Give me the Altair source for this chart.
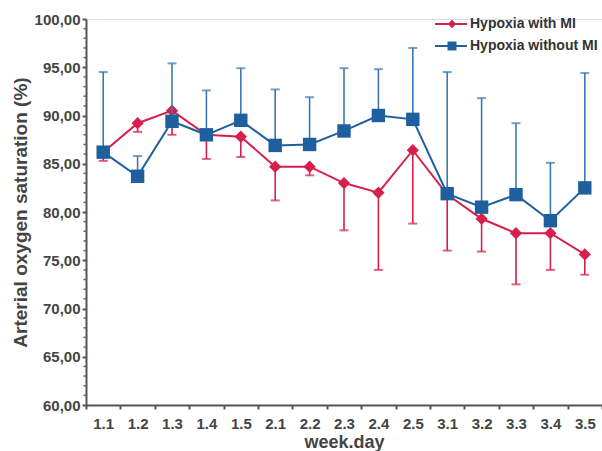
import altair as alt
import pandas as pd

weeks = ["1.1", "1.2", "1.3", "1.4", "1.5", "2.1", "2.2", "2.3", "2.4", "2.5",
         "3.1", "3.2", "3.3", "3.4", "3.5"]
mi_mean = [86.2, 89.2, 90.5, 88.0, 87.8, 84.7, 84.7, 83.0, 82.0, 86.4,
           81.8, 79.3, 77.8, 77.8, 75.6]
mi_low = [85.3, 88.3, 88.0, 85.5, 85.7, 81.2, 83.8, 78.1, 74.0, 78.8,
          76.0, 75.9, 72.5, 74.0, 73.5]
nomi_mean = [86.2, 83.7, 89.4, 88.0, 89.5, 86.9, 87.0, 88.4, 90.0, 89.6,
             81.9, 80.5, 81.8, 79.1, 82.5]
nomi_high = [94.5, 85.8, 95.4, 92.6, 94.9, 92.7, 91.9, 94.9, 94.8, 97.0,
             94.5, 91.8, 89.2, 85.1, 94.4]
y_ticks = [60, 65, 70, 75, 80, 85, 90, 95, 100]
y_minor = [v for v in range(61, 100) if v % 5 != 0]
series_names = ["Hypoxia with MI", "Hypoxia without MI"]

RED = "#d71f4c"
BLUE = "#1f5f9e"
BLUE_ERR = "#3b78b2"
FONT = "Liberation Sans"
W, H = 516, 386

df_mi = pd.DataFrame({"week": weeks, "mean": mi_mean, "err": mi_low})
df_no = pd.DataFrame({"week": weeks, "mean": nomi_mean, "err": nomi_high})

xscale = alt.Scale(type="band", paddingInner=0, paddingOuter=0, domain=weeks)
yscale = alt.Scale(domain=[60, 100], nice=False, zero=False)

x_axis = alt.Axis(title="week.day", labelAngle=0, tickBand="extent",
                  tickSize=4, tickWidth=2, tickColor="#555",
                  labelPadding=7, labelFont=FONT, labelFontSize=15,
                  labelFontWeight="bold", labelColor="#444",
                  titleFont=FONT, titleFontSize=18, titleFontWeight="bold",
                  titleColor="#444", titlePadding=2,
                  domainColor="#555", domainWidth=2)
x_enc = alt.X("week:N", scale=xscale, sort=weeks, axis=x_axis)
y_enc = alt.Y("mean:Q", scale=yscale,
              axis=alt.Axis(title="Arterial oxygen saturation (%)", values=y_ticks,
                            labelExpr="replace(format(datum.value, '.2f'), '.', ',')",
                            labelFont=FONT, labelFontSize=15, labelFontWeight="bold",
                            labelColor="#444", tickColor="#555", tickSize=4,
                            tickWidth=2, labelPadding=2,
                            titleFont=FONT, titleFontSize=19, titleFontWeight="bold",
                            titleColor="#444", titlePadding=4,
                            domainColor="#555", domainWidth=2, grid=False))

# minor ticks on the y axis
minor = alt.Chart(pd.DataFrame({"v": y_minor})).mark_rule(
    color="#666", strokeWidth=1.5).encode(
    y=alt.Y("v:Q", scale=yscale), x=alt.value(-2.5), x2=alt.value(0))


def series(df, color, errcolor, shape, size):
    base = alt.Chart(df)
    err = base.mark_rule(color=errcolor, strokeWidth=1.6).encode(
        x=x_enc, y=y_enc, y2="err:Q")
    cap = base.mark_tick(color=errcolor, size=9, thickness=2).encode(
        x=x_enc, y=alt.Y("err:Q", scale=yscale))
    line = base.mark_line(color=color, strokeWidth=2).encode(x=x_enc, y=y_enc)
    pts = base.mark_point(color=color, filled=True, opacity=1, shape=shape,
                          size=size).encode(x=x_enc, y=y_enc)
    return [err, cap, line, pts]


def legend_row(name, color, shape, size, ypos):
    d = pd.DataFrame({"name": [name]})
    b = alt.Chart(d)
    ln = b.mark_rule(color=color, strokeWidth=2).encode(
        x=alt.value(349), x2=alt.value(381), y=alt.value(ypos))
    pt = b.mark_point(color=color, filled=True, opacity=1, shape=shape,
                      size=size).encode(x=alt.value(366), y=alt.value(ypos))
    tx = b.mark_text(align="left", baseline="middle", font=FONT, fontSize=14,
                     fontWeight="bold", color="#333").encode(
        x=alt.value(384), y=alt.value(ypos), text="name:N")
    return [ln, pt, tx]


layers = []
layers += series(df_mi, RED, RED, "diamond", 150)
layers += series(df_no, BLUE, BLUE_ERR, "square", 180)
layers += [minor]
layers += legend_row(series_names[0], RED, "diamond", 70, 5)
layers += legend_row(series_names[1], BLUE, "square", 80, 27)

chart = alt.layer(*layers).properties(
    width=W, height=H,
    autosize=alt.AutoSizeParams(type="none"),
    padding={"left": 86, "top": 19, "right": 0, "bottom": 46},
).configure_view(stroke=None).configure(background="white")

chart.save("out.html", embed_options={"renderer": "svg", "actions": False})
